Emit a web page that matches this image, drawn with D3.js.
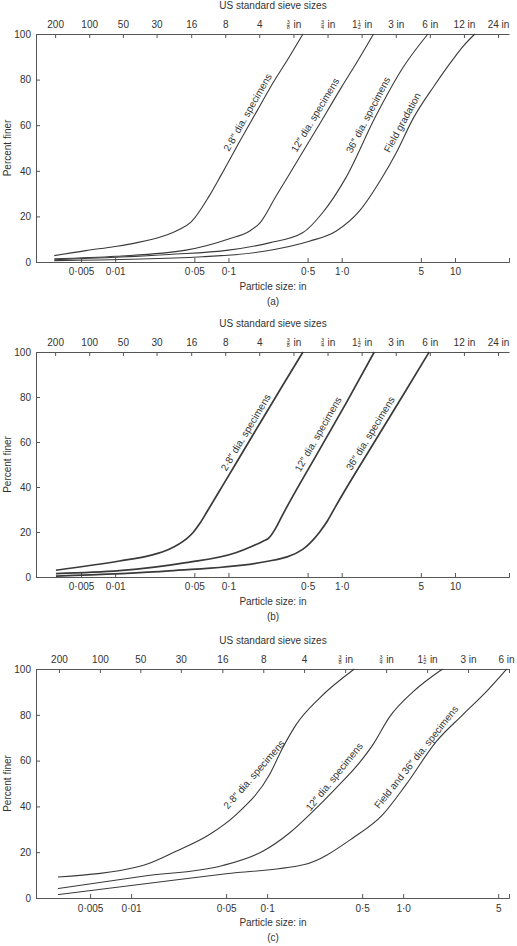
<!DOCTYPE html>
<html>
<head>
<meta charset="utf-8">
<script src="https://cdn.jsdelivr.net/npm/d3@7"></script>
<style>
    body { margin: 0; background: #fff; }
    svg { display: block; font-family: "Liberation Sans", Arial, sans-serif; }
    .axis path, .axis line { stroke: #555; }
    .axis text { font-family: "Liberation Sans", Arial, sans-serif; font-size: 10px; fill: #333; }
</style>
</head>
<body>
<svg id="chart" width="517" height="946"></svg>
<script>
// US sieve numbers and their openings (in)
const sieveLabels = ['200', '100', '50', '30', '16', '8', '4', '3/8 in', '3/4 in', '1 1/2 in', '3 in', '6 in', '12 in', '24 in'];
const sieveSizes = [0.00295, 0.0059, 0.0117, 0.0232, 0.0469, 0.0937, 0.187, 0.375, 0.75, 1.5, 3, 6, 12, 24];

const sizeTicks = [0.005, 0.01, 0.05, 0.1, 0.5, 1, 5, 10];
const sizeTickLabels = ['0·005', '0·01', '0·05', '0·1', '0·5', '1·0', '5', '10'];
const percentTicks = [0, 20, 40, 60, 80, 100];

// (a) [particle size in, percent finer]
const a28 = [[0.0029, 2.8], [0.0055, 5.0], [0.01, 6.8], [0.0153, 8.4], [0.0262, 11.3], [0.0368, 14.3], [0.0467, 17.5],
    [0.0677, 29], [0.0859, 38], [0.126, 53], [0.18, 66.5], [0.247, 78.5], [0.34, 89.5], [0.455, 100]];
const a12 = [[0.0029, 1.4], [0.0102, 2.5], [0.0422, 5.2], [0.102, 10.2], [0.153, 13.5], [0.19, 17.2],
    [0.262, 28.7], [0.344, 38.4], [0.6, 58.3], [1.0, 76.8], [1.4, 88.6], [1.91, 100]];
const a36 = [[0.0029, 1.0], [0.03, 3.3], [0.1, 5.2], [0.229, 8.4], [0.452, 12.8], [0.678, 21.6], [1.09, 37],
    [2.0, 64], [3.5, 85.5], [5.77, 100]];
const aField = [[0.0029, 0.6], [0.059, 2.3], [0.2, 4.6], [0.517, 9.1], [0.889, 13.5], [1.43, 22.3], [2.22, 36.2],
    [3.0, 47.5], [4.28, 63], [6.5, 77], [9.64, 89], [12, 95], [15, 100]];

// (b)
const b28 = [[0.003, 3.0], [0.0109, 7.1], [0.02, 9.5], [0.03, 12.3], [0.0422, 16.8], [0.049, 19.9], [0.0552, 23.4],
    [0.065, 29.2], [0.0889, 40.6], [0.164, 63], [0.3, 85], [0.455, 100]];
const b12 = [[0.003, 1.5], [0.0109, 2.8], [0.0422, 6.4], [0.116, 10.8], [0.164, 13.8], [0.2, 15.8], [0.229, 17.5],
    [0.26, 21.5], [0.3, 27.5], [0.632, 56.3], [1.1, 77.5], [1.94, 100]];
const b36 = [[0.003, 0.4], [0.03, 2.7], [0.229, 7.1], [0.452, 12.3], [0.632, 19.7], [0.75, 25], [0.889, 31.6],
    [2.0, 61], [3.5, 81], [5.92, 100]];

// (c)
const c28 = [[0.0029, 9.2], [0.0122, 14.2], [0.0214, 20.4], [0.0377, 27.7], [0.0592, 36.4], [0.104, 53.8],
    [0.13, 65.5], [0.163, 75.6], [0.242, 87.2], [0.438, 100]];
const c12 = [[0.0029, 4.1], [0.0122, 9.5], [0.0472, 14.2], [0.0929, 20.4], [0.146, 28.4], [0.217, 37.8],
    [0.321, 48], [0.476, 59], [0.6, 67], [0.793, 79], [1.18, 90], [1.95, 100]];
const c36Field = [[0.0029, 1.5], [0.0226, 8.1], [0.05, 10.6], [0.188, 14.6], [0.427, 26.2], [0.708, 36.4],
    [1.05, 49.5], [1.75, 68.3], [2.74, 80], [4.07, 90], [5.77, 100]];

const ink = '#333';
const svg = d3.select('#chart');

const panels = [
    { tag: '(a)', top: 34, bottom: 262, xMax: 30, ticks: 8, width: 1.1,
      lines: [a28, a12, a36, aField],
      labels: [
          { s: a28, text: '2·8″ dia. specimens', at: 64, off: 7.5 },
          { s: a12, text: '12″ dia. specimens', at: 62.5, off: 8.5 },
          { s: a36, text: '36″ dia. specimens', at: 63, off: 7.5 },
          { s: aField, text: 'Field gradation', at: 59.5, off: 8 }
      ] },
    { tag: '(b)', top: 352, bottom: 577, xMax: 30, ticks: 8, width: 1.7,
      lines: [b28, b12, b36],
      labels: [
          { s: b28, text: '2·8″ dia. specimens', at: 62.5, off: 7.5 },
          { s: b12, text: '12″ dia. specimens', at: 61.5, off: 9 },
          { s: b36, text: '36″ dia. specimens', at: 62, off: 8 }
      ] },
    { tag: '(c)', top: 669, bottom: 898, xMax: 6, ticks: 7, width: 1.1,
      lines: [c28, c12, c36Field],
      labels: [
          { s: c28, text: '2·8″ dia. specimens', at: 50.5, off: 12, rot: -49 },
          { s: c12, text: '12″ dia. specimens', at: 50.5, off: 9, rot: -51 },
          { s: c36Field, text: 'Field and 36″ dia. specimens', at: 59.5, off: 7.5, rot: -51.5 }
      ] }
];

// screen point on a series where percent finer = p
const pointAt = (s, p, x, y) => {
    for (let i = 1; i < s.length; i++) {
        const [s0, p0] = s[i - 1], [s1, p1] = s[i];
        if (p >= p0 && p <= p1) {
            const t = (p - p0) / (p1 - p0);
            return [x(s0) + t * (x(s1) - x(s0)), y(p)];
        }
    }
    return [x(s[s.length - 1][0]), y(p)];
};

const drawSieveLabel = (g, label, base) => {
    const m = label.match(/^(?:(\d+) )?(\d+)\/(\d+) in$/);
    if (!m) {
        g.append('text').attr('y', base).attr('text-anchor', 'middle')
            .attr('fill', ink).style('font-size', '10px').text(label);
        return;
    }
    const whole = m[1] || '';
    const wW = whole.length * 5.6, fW = 3.4, gap = 3.4, inW = 7.8;
    const total = wW + fW + gap + inW;
    let cx = -total / 2;
    if (whole) {
        g.append('text').attr('x', cx).attr('y', base).attr('text-anchor', 'start')
            .attr('fill', ink).style('font-size', '10px').text(whole);
        cx += wW;
    }
    const fc = cx + fW / 2;
    g.append('text').attr('x', fc).attr('y', base - 3.8).attr('text-anchor', 'middle')
        .attr('fill', ink).style('font-size', '5.5px').text(m[2]);
    g.append('line').attr('x1', fc - 1.7).attr('x2', fc + 1.7)
        .attr('y1', base - 3.1).attr('y2', base - 3.1).attr('stroke', ink).attr('stroke-width', 0.5);
    g.append('text').attr('x', fc).attr('y', base + 1.1).attr('text-anchor', 'middle')
        .attr('fill', ink).style('font-size', '5.5px').text(m[3]);
    g.append('text').attr('x', cx + fW + gap).attr('y', base).attr('text-anchor', 'start')
        .attr('fill', ink).style('font-size', '10px').text('in');
};

panels.forEach(p => {
    const x = d3.scaleLog().domain([0.002, p.xMax]).range([36, 509]);
    const y = d3.scaleLinear().domain([0, 100]).range([p.bottom, p.top]);
    const ticks = sizeTicks.slice(0, p.ticks);
    const tickText = new Map(ticks.map((d, i) => [d, sizeTickLabels[i]]));
    const sieves = sieveSizes.filter(d => d <= p.xMax);

    const g = svg.append('g');

    // bottom axis: particle size
    g.append('g')
        .attr('class', 'axis')
        .attr('transform', `translate(0,${p.bottom})`)
        .call(d3.axisBottom(x).tickValues(ticks).tickFormat(d => tickText.get(d))
            .tickSizeInner(-4).tickSizeOuter(-4).tickPadding(p.tag === '(c)' ? 7 : 6));

    // top axis: sieve sizes
    const top = g.append('g')
        .attr('class', 'axis')
        .attr('transform', `translate(0,${p.top})`)
        .call(d3.axisTop(x).tickValues(sieves).tickFormat('').tickSizeInner(-4).tickSizeOuter(0));
    top.selectAll('.tick').each(function(d) {
        const lab = d3.select(this).append('g');
        drawSieveLabel(lab, sieveLabels[sieveSizes.indexOf(d)], -5.8);
        const box = lab.node().getBBox();
        const right = x(d) + box.x + box.width;
        if (right > 514) lab.attr('transform', `translate(${514 - right},0)`);
    });

    // left axis
    g.append('g')
        .attr('class', 'axis')
        .attr('transform', 'translate(36,0)')
        .call(d3.axisLeft(y).tickValues(percentTicks).tickSizeInner(-4).tickSizeOuter(0).tickPadding(5));

    // titles
    g.append('text')
        .attr('x', 273).attr('y', p.top - 25.2)
        .attr('text-anchor', 'middle').attr('fill', ink).style('font-size', '10px')
        .text('US standard sieve sizes');
    g.append('text')
        .attr('x', 273).attr('y', p.bottom + 27.6)
        .attr('text-anchor', 'middle').attr('fill', ink).style('font-size', '10px')
        .text('Particle size: in');
    g.append('text')
        .attr('x', 273).attr('y', p.bottom + 42.5)
        .attr('text-anchor', 'middle').attr('fill', ink).style('font-size', '10px')
        .text(p.tag);
    g.append('text')
        .attr('transform', `translate(11,${(p.top + p.bottom) / 2}) rotate(-90)`)
        .attr('text-anchor', 'middle').attr('fill', ink).style('font-size', '10px')
        .text('Percent finer');

    // curves
    const line = d3.line()
        .x(d => x(d[0]))
        .y(d => y(d[1]))
        .curve(d3.curveMonotoneX);
    g.selectAll('path.curve')
        .data(p.lines)
        .enter()
        .append('path')
            .attr('class', 'curve')
            .attr('d', line)
            .attr('fill', 'none')
            .attr('stroke', '#3a3a3a')
            .attr('stroke-width', p.width);

    // curve labels, laid along the curve
    p.labels.forEach(l => {
        const [px, py] = pointAt(l.s, l.at, x, y);
        const [ax, ay] = pointAt(l.s, Math.max(l.at - 12, 1), x, y);
        const [bx, by] = pointAt(l.s, Math.min(l.at + 12, 99), x, y);
        const angle = l.rot !== undefined ? l.rot : Math.atan2(by - ay, bx - ax) * 180 / Math.PI;
        g.append('text')
            .attr('transform', `translate(${px},${py}) rotate(${angle})`)
            .attr('y', -l.off)
            .attr('dy', '0.35em')
            .attr('text-anchor', 'middle')
            .attr('fill', ink)
            .style('font-size', '10px')
            .text(l.text);
    });
});
</script>
</body>
</html>
